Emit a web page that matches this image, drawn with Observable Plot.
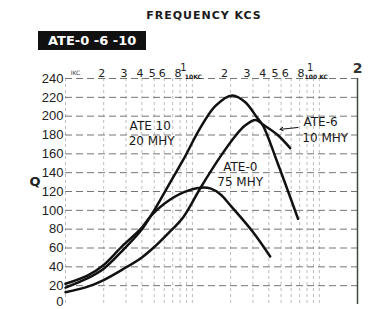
<!DOCTYPE html>
<html>
<head>
<meta charset="utf-8">
<script src="https://cdn.jsdelivr.net/npm/d3@7"></script>
<script src="https://cdn.jsdelivr.net/npm/@observablehq/plot@0.6"></script>
<style>
  html, body { margin: 0; padding: 0; background: #fff; }
  #wrap { position: relative; width: 371px; height: 309px; overflow: hidden; font-family: "DejaVu Sans", sans-serif; }
  #title { position: absolute; left: 0; width: 408px; top: 9px; text-align: center; font-size: 11px; font-weight: bold; letter-spacing: 1px; color: #1a1a1a; line-height: 14px; }
  #box { position: absolute; left: 38px; top: 31px; width: 108px; height: 19px; background: #111; color: #fff; font-weight: bold; font-size: 13px; line-height: 19px; box-sizing: border-box; padding-left: 10px; white-space: nowrap; }
  #chart { position: absolute; left: 0; top: 0; }
</style>
</head>
<body>
<div id="wrap">
  <div id="chart"></div>
  <div id="title">FREQUENCY KCS</div>
  <div id="box">ATE-0 -6 -10</div>
</div>
<script>
// Frequency (kc) and Q readings for each unit
const ate10Freq = [1, 1.5, 2, 2.8, 3.9, 4.9, 6.9, 8.5, 11.6, 15.2, 20.6, 26, 32.5, 36, 47, 68];
const ate10Q    = [18, 28, 38, 57, 78, 98, 133, 154, 188, 211, 222, 215, 198, 190, 150, 91];
const ate6Freq  = [1, 1.5, 2, 2.8, 4, 5.1, 6.5, 8.5, 11.6, 16.6, 21.8, 26, 31.3, 36, 47, 59];
const ate6Q     = [13, 19, 26, 37, 50, 62, 76, 93, 124, 157, 179, 190, 196, 191, 180, 166];
const ate0Freq  = [1, 1.5, 2, 2.8, 3.9, 4.7, 6, 8.5, 11.6, 14, 16.6, 20, 30, 41];
const ate0Q     = [22, 31, 42, 62, 80, 94, 107, 119, 124, 123, 117, 105, 77, 51];

const qTicks = [0, 20, 40, 60, 80, 100, 120, 140, 160, 180, 200, 220, 240];
const lowDigitTicks = [2, 3, 4, 5, 6, 8];
const highDigitTicks = [20, 30, 40, 50, 60, 80];
const decadeTicks = [10, 100];
const gridFreqs = [1, 2, 3, 4, 5, 6, 7, 8, 9, 10, 20, 30, 40, 50, 60, 70, 80, 90, 100, 200];

const labels = [
  {x: 3.2, y: 189, text: "ATE 10"},
  {x: 3.15, y: 173, text: "20 MHY"},
  {x: 75, y: 194, text: "ATE-6"},
  {x: 73.5, y: 177, text: "10 MHY"},
  {x: 17.5, y: 146, text: "ATE-0"},
  {x: 15.7, y: 130, text: "75 MHY"}
];
const pointer = [{x1: 68, y1: 188, x2: 49, y2: 186}];

const series = [
  {name: "ATE-10", f: ate10Freq, q: ate10Q},
  {name: "ATE-6", f: ate6Freq, q: ate6Q},
  {name: "ATE-0", f: ate0Freq, q: ate0Q}
];
const rows = series.flatMap(s => s.f.map((f, i) => ({series: s.name, f, q: s.q[i]})));

const yAxisFont = {fontSize: 13, fontFamily: "Liberation Sans, Arial, sans-serif", fill: "#222"};

const chart = Plot.plot({
  width: 371,
  height: 309,
  marginTop: 78,
  marginBottom: 5,
  marginLeft: 65,
  marginRight: 14,
  style: {background: "transparent", fontFamily: "DejaVu Sans, sans-serif", fontSize: "12px", color: "#1a1a1a"},
  x: {type: "log", domain: [1, 200], axis: null},
  y: {domain: [0, 240], axis: null},
  marks: [
    Plot.ruleX(gridFreqs, {stroke: "#bdbdbd", strokeWidth: 1, strokeDasharray: "3,3"}),
    Plot.ruleY(qTicks.filter(d => d > 0), {stroke: "#767676", strokeWidth: 1, strokeDasharray: "7,4"}),
    Plot.ruleX([200], {stroke: "#3d4a3d", strokeWidth: 1.5}),
    Plot.axisY({ticks: qTicks.filter(d => d > 0), tickSize: 0, tickPadding: 2, label: null, ...yAxisFont}),
    Plot.axisY({ticks: qTicks.filter(d => d === 0), tickSize: 0, tickPadding: 2, label: null, dy: -3, ...yAxisFont}),
    Plot.text(["Q"], {frameAnchor: "left", dx: -36, dy: -10, fontSize: 13, fontWeight: "bold", fill: "#222"}),
    Plot.text(lowDigitTicks, {x: d => d, text: d => String(d).charAt(0), frameAnchor: "top", dx: -2, dy: -9, fontSize: 11, fill: "#222"}),
    Plot.text(highDigitTicks, {x: d => d, text: d => String(d).charAt(0), frameAnchor: "top", dx: -6, dy: -9, fontSize: 11, fill: "#222"}),
    Plot.text(decadeTicks, {x: d => d, text: () => "1", frameAnchor: "top", dx: -9, dy: -15, fontSize: 10, fill: "#222"}),
    Plot.text([1], {x: d => d, text: () => "IKC", frameAnchor: "top", dx: 10, dy: -8, fontSize: 6, fill: "#444"}),
    Plot.text([10], {x: d => d, text: () => "10KC", frameAnchor: "top", dx: 1, dy: -4, fontSize: 6, fontWeight: "bold", fill: "#222"}),
    Plot.text([100], {x: d => d, text: () => "100 KC", frameAnchor: "top", dx: -3, dy: -4, fontSize: 6, fontWeight: "bold", fill: "#222"}),
    Plot.text([200], {x: d => d, text: () => "2", frameAnchor: "top", dx: 0, dy: -15, fontSize: 14, fontWeight: "bold", fill: "#333"}),
    Plot.line(rows, {x: "f", y: "q", z: "series", curve: "catmull-rom", stroke: "#111", strokeWidth: 2.5}),
    Plot.text(labels, {x: "x", y: "y", text: "text", textAnchor: "start", fontSize: 12, fill: "#1a1a1a"}),
    Plot.arrow(pointer, {x1: "x1", y1: "y1", x2: "x2", y2: "y2", stroke: "#111", strokeWidth: 1, headLength: 5})
  ]
});
document.getElementById("chart").appendChild(chart);
</script>
</body>
</html>
